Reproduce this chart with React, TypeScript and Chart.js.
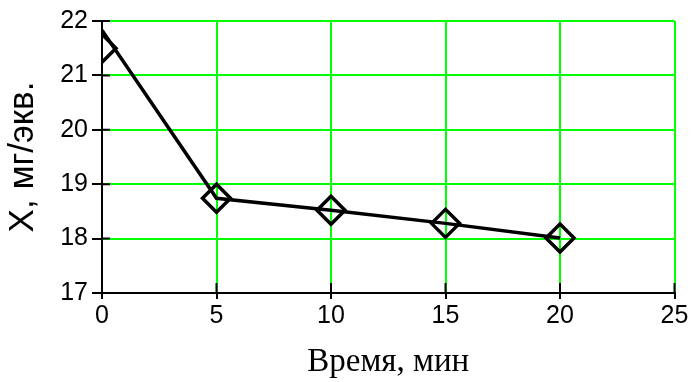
import React, { useEffect, useRef } from "react";
import { Chart, registerables } from "chart.js";

Chart.register(...registerables);

const timeMin = [0, 5, 10, 15, 20];
const lineValues = [21.83, 18.74, 18.52, 18.28, 18.01];
const markerValues = [21.5, 18.74, 18.52, 18.28, 18.01];
const xTicks = [0, 5, 10, 15, 20, 25];
const yTicks = [17, 18, 19, 20, 21, 22];

const tickFont = "'Liberation Sans', Arial, sans-serif";

const innerTicks = {
  id: "innerTicks",
  afterDatasetsDraw(chart: any) {
    const { ctx, chartArea, scales } = chart;
    ctx.save();
    ctx.strokeStyle = "#000";
    ctx.lineWidth = 2;
    ctx.beginPath();
    for (const v of yTicks) {
      const y = scales.y.getPixelForValue(v);
      ctx.moveTo(chartArea.left, y);
      ctx.lineTo(chartArea.left + 8, y);
    }
    for (const v of xTicks) {
      const x = scales.x.getPixelForValue(v);
      ctx.moveTo(x, chartArea.bottom);
      ctx.lineTo(x, chartArea.bottom - 10);
    }
    ctx.stroke();
    ctx.restore();
  },
};

export default function App() {
  const ref = useRef<HTMLCanvasElement>(null);
  useEffect(() => {
    if (!ref.current) return;
    const chart = new Chart(ref.current, {
      type: "scatter",
      data: {
        datasets: [
          {
            data: timeMin.map((x, i) => ({ x, y: lineValues[i] })),
            showLine: true,
            borderColor: "#000",
            borderWidth: 3.5,
            pointRadius: 0,
            tension: 0,
          },
          {
            data: timeMin.map((x, i) => ({ x, y: markerValues[i] })),
            showLine: false,
            pointStyle: "rectRot",
            pointRadius: 14,
            pointBorderWidth: 3.5,
            pointBorderColor: "#000",
            pointBackgroundColor: "rgba(0,0,0,0)",
            clip: { left: 0, top: 30, right: 30, bottom: 30 },
          } as any,
        ],
      },
      plugins: [innerTicks],
      options: {
        responsive: false,
        animation: false,
        layout: { padding: { left: 0, right: 15, top: 21, bottom: 0 } },
        plugins: { legend: { display: false }, tooltip: { enabled: false } },
        scales: {
          x: {
            type: "linear",
            min: 0,
            max: 25,
            afterBuildTicks: (s: any) => {
              s.ticks = xTicks.map((v) => ({ value: v }));
            },
            afterFit: (s: any) => {
              s.height = 89;
            },
            grid: {
              color: "#00ff00",
              lineWidth: 2,
              tickColor: "#000",
              tickLength: 6,
              tickWidth: 2,
            },
            border: { color: "#000", width: 2 },
            ticks: {
              color: "#000",
              padding: 2,
              font: { family: tickFont, size: 25 },
            },
            title: {
              display: true,
              text: "Время, мин",
              color: "#000",
              padding: { top: 0, bottom: 0 },
              font: { family: "'Liberation Serif', 'Times New Roman', serif", size: 33, lineHeight: 1.2 },
            },
          },
          y: {
            type: "linear",
            min: 17,
            max: 22,
            afterBuildTicks: (s: any) => {
              s.ticks = yTicks.map((v) => ({ value: v }));
            },
            afterFit: (s: any) => {
              s.width = 102;
            },
            grid: {
              color: "#00ff00",
              lineWidth: 2,
              tickColor: "#000",
              tickLength: 10,
              tickWidth: 2,
            },
            border: { color: "#000", width: 2 },
            ticks: {
              color: "#000",
              padding: 4,
              font: { family: tickFont, size: 25 },
            },
            title: {
              display: true,
              text: "X, мг/экв.",
              color: "#000",
              padding: { top: 2, bottom: 0 },
              font: { family: "'Liberation Sans', Arial, sans-serif", size: 35, lineHeight: 1.2 },
            },
          },
        },
      },
    });
    return () => chart.destroy();
  }, []);
  return (
    <div style={{ position: "fixed", left: 0, top: 0, width: 692, height: 382, background: "#fff" }}>
      <canvas ref={ref} width={692} height={382} />
    </div>
  );
}
